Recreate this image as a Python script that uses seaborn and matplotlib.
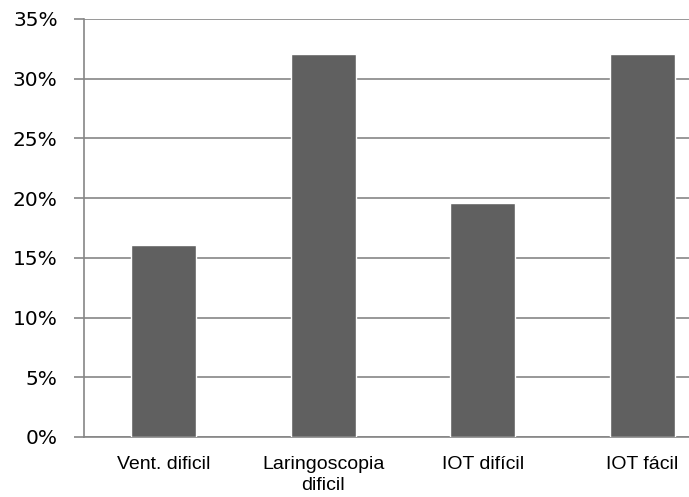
import matplotlib.pyplot as plt
import seaborn as sns
import pandas as pd
from matplotlib.ticker import PercentFormatter

# Data
categories = ["Vent. dificil", "Laringoscopia\ndificil", "IOT difícil", "IOT fácil"]
values = [16.1, 32.1, 19.6, 32.1]

df = pd.DataFrame({"category": categories, "value": values})

sns.set_style("white")
plt.rcParams["font.family"] = ["Liberation Sans", "DejaVu Sans"]

fig = plt.figure(figsize=(6.89, 4.97), dpi=100)
ax = fig.add_axes([84 / 689, 1 - 437 / 497, 1 - 84 / 689, (437 - 19) / 497])

# Bar plot
sns.barplot(data=df, x="category", y="value", color="#606060", width=0.41,
            saturation=1, ax=ax, zorder=3)

# Y axis
ax.set_ylim(0, 35)
ax.set_yticks(range(0, 36, 5))
ax.yaxis.set_major_formatter(PercentFormatter(decimals=0))
ax.set_ylabel("")
for lbl in ax.get_yticklabels():
    lbl.set_fontfamily(["DejaVu Sans"])
ax.tick_params(axis="y", length=7, width=1.2, color="#868686", labelsize=14.5,
               labelcolor="black", pad=12, left=True)

# X axis
ax.set_xlim(-0.5, -0.5 + (689 - 84) / 159.5)
ax.set_xlabel("")
ax.tick_params(axis="x", length=0, labelsize=14, labelcolor="black", pad=14)
for lbl in ax.get_xticklabels():
    lbl.set_linespacing(1.25)

# Grid and spines
ax.grid(axis="y", color="#868686", linewidth=1.2, zorder=0)
for side in ["top", "right"]:
    ax.spines[side].set_visible(False)
for side in ["left", "bottom"]:
    ax.spines[side].set_color("#868686")
    ax.spines[side].set_linewidth(1.2)

fig.savefig("out.png", dpi=100)
